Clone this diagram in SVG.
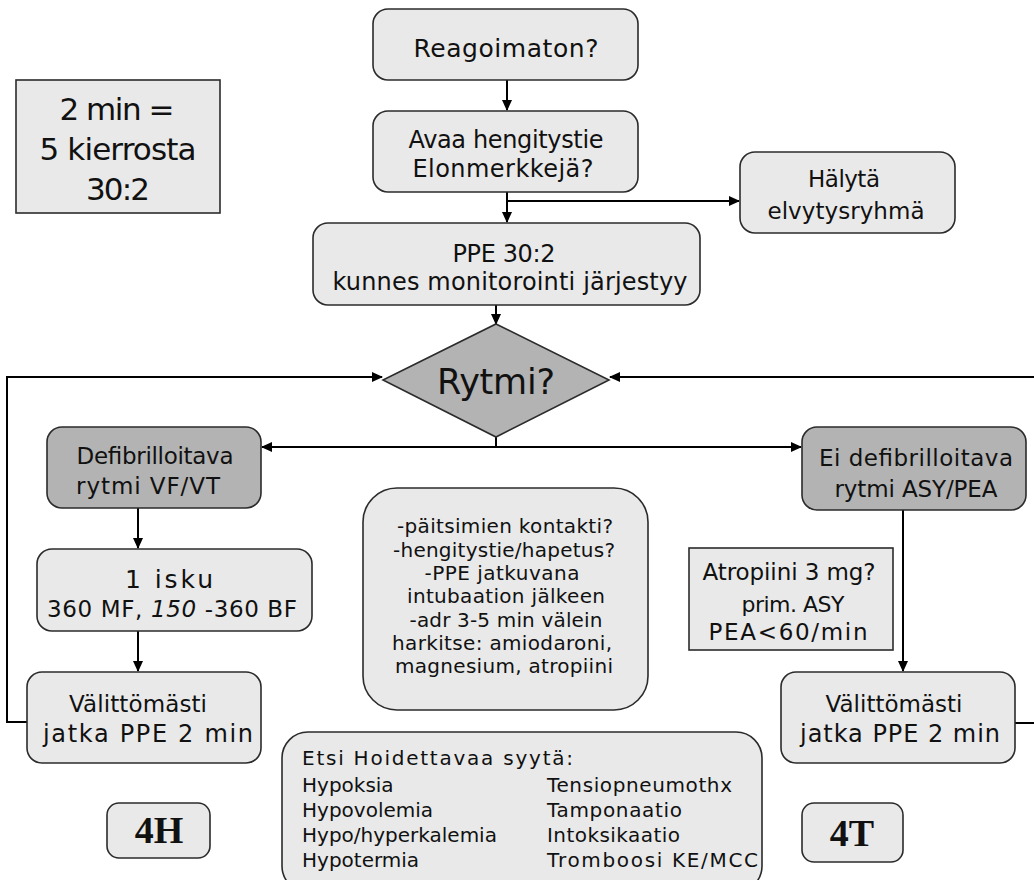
<svg xmlns="http://www.w3.org/2000/svg" width="1034" height="880" viewBox="0 0 1034 880">
<defs>
<marker id="arr" markerUnits="userSpaceOnUse" markerWidth="11" markerHeight="10" refX="10" refY="5" orient="auto">
<path d="M0,0 L11,5 L0,10 z" fill="#000"/>
</marker>
<style>
.box{fill:#e9e9e9;stroke:#2b2b2b;stroke-width:1.6}
.dark{fill:#b3b3b3;stroke:#2b2b2b;stroke-width:1.6}
.t{font-family:"DejaVu Sans",sans-serif;fill:#111;text-anchor:middle}
.tl{font-family:"DejaVu Sans",sans-serif;fill:#111;text-anchor:start;font-size:20px}
.big{font-family:"Liberation Serif",serif;font-weight:bold;fill:#111;text-anchor:middle;font-size:38px}
.c{fill:none;stroke:#000;stroke-width:2}
</style>
</defs>
<rect width="1034" height="880" fill="#fff"/>
<g id="connectors">
<path class="c" d="M507,80 V110" marker-end="url(#arr)"/>
<path class="c" d="M507,192 V222" marker-end="url(#arr)"/>
<path class="c" d="M507,201 H739" marker-end="url(#arr)"/>
<path class="c" d="M496,305 V324" marker-end="url(#arr)"/>
<path class="c" d="M496,437 V447"/>
<path class="c" d="M496,447 H262" marker-end="url(#arr)"/>
<path class="c" d="M496,447 H801" marker-end="url(#arr)"/>
<path class="c" d="M138,508 V548" marker-end="url(#arr)"/>
<path class="c" d="M138,631 V671" marker-end="url(#arr)"/>
<path class="c" stroke-width="1.6" d="M27,722 H7 V377 H382" marker-end="url(#arr)"/>
<path class="c" stroke-width="1.6" d="M1015,723 H1036 V377 H610" marker-end="url(#arr)"/>
<path class="c" d="M903,510 V671" marker-end="url(#arr)"/>
</g>
<g id="n-reagoimaton">
<rect class="box" x="373" y="9" width="265" height="71" rx="15"/>
<text class="t" x="506" y="57" font-size="25" textLength="185" lengthAdjust="spacing">Reagoimaton?</text>
</g>
<g id="n-avaa">
<rect class="box" x="373" y="111" width="265" height="81" rx="15"/>
<text class="t" x="506" y="148" font-size="24" textLength="195" lengthAdjust="spacing">Avaa hengitystie</text>
<text class="t" x="503" y="177" font-size="24" textLength="181" lengthAdjust="spacing">Elonmerkkejä?</text>
</g>
<g id="n-halyta">
<rect class="box" x="740" y="152" width="215" height="81" rx="15"/>
<text class="t" x="844" y="187" font-size="23" textLength="72" lengthAdjust="spacing">Hälytä</text>
<text class="t" x="846" y="219" font-size="23" textLength="157" lengthAdjust="spacing">elvytysryhmä</text>
</g>
<g id="n-2min">
<rect class="box" x="16" y="80" width="204" height="133"/>
<text class="t" x="117" y="120" font-size="31" textLength="115" lengthAdjust="spacing">2 min =</text>
<text class="t" x="118" y="160" font-size="31" textLength="157" lengthAdjust="spacing">5 kierrosta</text>
<text class="t" x="118" y="200" font-size="31" textLength="64" lengthAdjust="spacing">30:2</text>
</g>
<g id="n-ppe">
<rect class="box" x="313" y="223" width="387" height="82" rx="15"/>
<text class="t" x="504" y="262" font-size="24" textLength="103" lengthAdjust="spacing">PPE 30:2</text>
<text class="t" x="510" y="290" font-size="24" textLength="355" lengthAdjust="spacing">kunnes monitorointi järjestyy</text>
</g>
<g id="n-rytmi">
<polygon class="dark" points="496,324 609,380 496,437 383,380"/>
<text class="t" x="496" y="394" font-size="35" textLength="118" lengthAdjust="spacing">Rytmi?</text>
</g>
<g id="n-defib">
<rect class="dark" x="47" y="427" width="214" height="81" rx="15"/>
<text class="t" x="155" y="464" font-size="23" textLength="157" lengthAdjust="spacing">Defibrilloitava</text>
<text class="t" x="148" y="494" font-size="23" textLength="144" lengthAdjust="spacing">rytmi VF/VT</text>
</g>
<g id="n-isku">
<rect class="box" x="37" y="549" width="275" height="82" rx="15"/>
<text class="t" x="169" y="588" font-size="25" textLength="88" lengthAdjust="spacing">1 isku</text>
<text class="t" x="172" y="617" font-size="23" textLength="250" lengthAdjust="spacing">360 MF, <tspan font-style="italic">150</tspan> -360 BF</text>
</g>
<g id="n-valitt-left">
<rect class="box" x="27" y="672" width="234" height="91" rx="15"/>
<text class="t" x="138" y="712" font-size="23" textLength="138" lengthAdjust="spacing">Välittömästi</text>
<text class="t" x="148" y="742" font-size="24" textLength="210" lengthAdjust="spacing">jatka PPE 2 min</text>
</g>
<g id="n-4h">
<rect class="box" x="107" y="803" width="103" height="55" rx="12"/>
<text class="big" x="159" y="843">4H</text>
</g>
<g id="n-center">
<rect class="box" x="363" y="488" width="285" height="222" rx="34"/>
<text class="t" x="505" y="533" font-size="20" textLength="216" lengthAdjust="spacing">-päitsimien kontakti?</text>
<text class="t" x="504" y="557" font-size="20" textLength="222" lengthAdjust="spacing">-hengitystie/hapetus?</text>
<text class="t" x="502" y="580" font-size="20" textLength="155" lengthAdjust="spacing">-PPE jatkuvana</text>
<text class="t" x="506" y="603" font-size="20" textLength="198" lengthAdjust="spacing">intubaation jälkeen</text>
<text class="t" x="506" y="627" font-size="20" textLength="193" lengthAdjust="spacing">-adr 3-5 min välein</text>
<text class="t" x="502" y="650" font-size="20" textLength="220" lengthAdjust="spacing">harkitse: amiodaroni,</text>
<text class="t" x="504" y="673" font-size="20" textLength="218" lengthAdjust="spacing">magnesium, atropiini</text>
</g>
<g id="n-etsi">
<rect class="box" x="282" y="732" width="480" height="160" rx="26"/>
<text class="tl" x="302" y="765" textLength="271" lengthAdjust="spacing">Etsi Hoidettavaa syytä:</text>
<text class="tl" x="302" y="792">Hypoksia</text>
<text class="tl" x="302" y="817">Hypovolemia</text>
<text class="tl" x="302" y="842">Hypo/hyperkalemia</text>
<text class="tl" x="302" y="867">Hypotermia</text>
<text class="tl" x="547" y="792" textLength="185" lengthAdjust="spacing">Tensiopneumothx</text>
<text class="tl" x="547" y="817" textLength="135" lengthAdjust="spacing">Tamponaatio</text>
<text class="tl" x="547" y="842" textLength="133" lengthAdjust="spacing">Intoksikaatio</text>
<text class="tl" x="547" y="867" textLength="211" lengthAdjust="spacing">Tromboosi KE/MCC</text>
</g>
<g id="n-eidefib">
<rect class="dark" x="802" y="427" width="224" height="83" rx="15"/>
<text class="t" x="916" y="466" font-size="23" textLength="194" lengthAdjust="spacing">Ei defibrilloitava</text>
<text class="t" x="916" y="497" font-size="23" textLength="163" lengthAdjust="spacing">rytmi ASY/PEA</text>
</g>
<g id="n-atropiini">
<rect class="box" x="689" y="548" width="204" height="102"/>
<text class="t" x="789" y="580" font-size="23" textLength="173" lengthAdjust="spacing">Atropiini 3 mg?</text>
<text class="t" x="793" y="612" font-size="22" textLength="103" lengthAdjust="spacing">prim. ASY</text>
<text class="t" x="788" y="640" font-size="23" textLength="159" lengthAdjust="spacing">PEA&lt;60/min</text>
</g>
<g id="n-valitt-right">
<rect class="box" x="781" y="672" width="234" height="91" rx="15"/>
<text class="t" x="894" y="712" font-size="23" textLength="137" lengthAdjust="spacing">Välittömästi</text>
<text class="t" x="900" y="742" font-size="24" textLength="200" lengthAdjust="spacing">jatka PPE 2 min</text>
</g>
<g id="n-4t">
<rect class="box" x="802" y="803" width="101" height="59" rx="12"/>
<text class="big" x="852" y="846">4T</text>
</g>
</svg>
